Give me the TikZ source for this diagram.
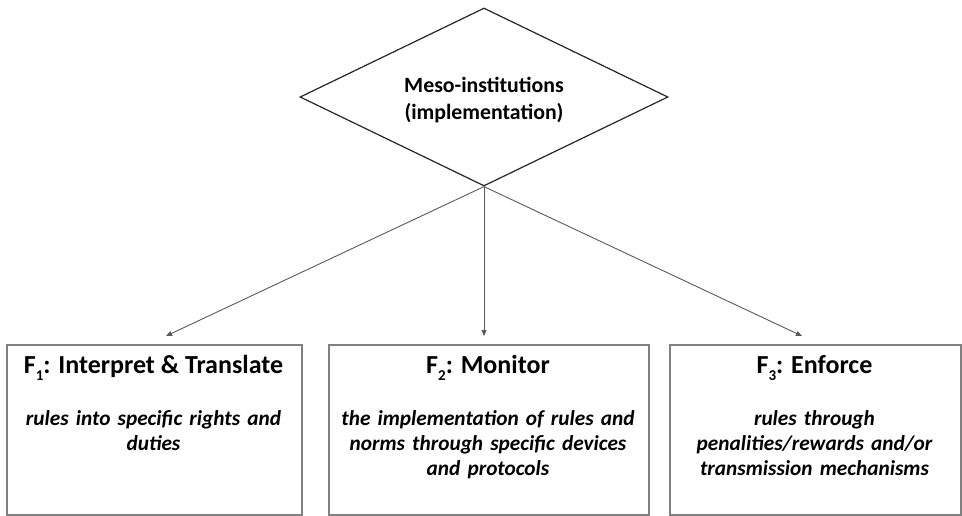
\documentclass[tikz,border=0pt]{standalone}
\usepackage{fontspec}
\setmainfont{Carlito}
\usetikzlibrary{shapes.geometric,arrows.meta}
\definecolor{dialine}{HTML}{262626}
\definecolor{boxline}{HTML}{808080}
\definecolor{arrline}{HTML}{5A5A5A}
\newcommand{\lowsub}[1]{\raisebox{-0.28em}{\fontsize{15}{15}\selectfont #1}}
\tikzset{
  diabox/.style={diamond, draw=dialine, line width=1.2pt, aspect=2.07,
    minimum width=368pt, minimum height=178pt, inner sep=0pt},
  diatext/.style={align=center, inner sep=0pt,
    font=\bfseries\fontsize{21.8}{26.5}\selectfont},
  funcbox/.style={rectangle, draw=boxline, line width=1.5pt, anchor=north west, inner sep=0pt},
  titletext/.style={anchor=base, font=\bfseries\fontsize{26}{30}\selectfont, inner sep=0pt},
  bodytext/.style={anchor=base, align=center, text width=#1, inner sep=0pt,
    font=\bfseries\itshape\fontsize{21.3}{25}\selectfont},
  arr/.style={draw=arrline, line width=0.9pt, -{Triangle[length=6pt,width=5pt]}}
}
\begin{document}
\begin{tikzpicture}[x=1pt,y=-1pt]
\useasboundingbox (0,0) rectangle (962,515);
\fill[white] (0,0) rectangle (962,515);

\node[diabox] (meso) at (484,97) {};
\node[diatext] (mesotext) at (484,100) {Meso-institutions\\(implementation)};

\node[funcbox, minimum width=295pt, minimum height=170pt] (b1) at (6,344) {};
\node[funcbox, minimum width=320pt, minimum height=170pt] (b2) at (328,344) {};
\node[funcbox, minimum width=291pt, minimum height=170pt] (b3) at (669,344) {};

\node[titletext] (t1) at (153.5,373) {F\lowsub{1}: Interpret \& Translate};
\node[titletext] (t2) at (488,373) {F\lowsub{2}: Monitor};
\node[titletext] (t3) at (814.5,373) {F\lowsub{3}: Enforce};

\node[bodytext=290pt] (d1) at (153.5,425) {rules into specific rights and\\duties};
\node[bodytext=315pt] (d2) at (488,425) {the implementation of rules and\\norms through specific devices\\and protocols};
\node[bodytext=288pt] (d3) at (814.5,425) {rules through\\penalities/rewards and/or\\transmission mechanisms};

\coordinate (e1) at (166,336);
\coordinate (e2) at (484,336);
\coordinate (e3) at (802,336);

\draw[arr] (meso.south) -- (e1);
\draw[arr] (meso.south) -- (e2);
\draw[arr] (meso.south) -- (e3);
\end{tikzpicture}
\end{document}
